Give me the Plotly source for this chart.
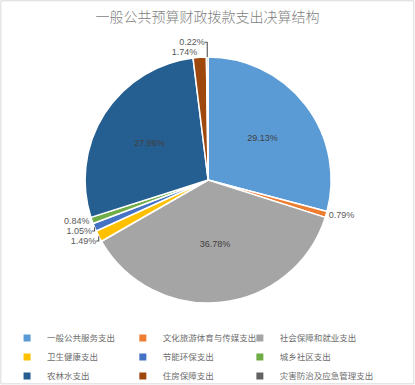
import plotly.graph_objects as go

categories = ["一般公共服务支出", "文化旅游体育与传媒支出", "社会保障和就业支出",
              "卫生健康支出", "节能环保支出", "城乡社区支出",
              "农林水支出", "住房保障支出", "灾害防治及应急管理支出"]
values = [29.13, 0.79, 36.78, 1.49, 1.05, 0.84, 27.96, 1.74, 0.22]
colors = ["#5B9BD5", "#ED7D31", "#A5A5A5", "#FFC000", "#4472C4",
          "#70AD47", "#255E91", "#9E480E", "#636363"]
title = "一般公共预算财政拨款支出决算结构"

positions = ["inside" if v > 10 else "outside" for v in values]

font_family = "Noto Sans CJK SC, Microsoft YaHei, sans-serif"

fig = go.Figure(go.Pie(
    labels=categories,
    values=values,
    sort=False,
    direction="clockwise",
    rotation=0,
    marker=dict(colors=colors, line=dict(color="white", width=1.5)),
    texttemplate="%{value:.2f}%",
    textinfo="text",
    textposition=positions,
    insidetextorientation="horizontal",
    textfont=dict(size=9, color="#404040", family="Liberation Sans, Arial, sans-serif"),
    outsidetextfont=dict(size=9, color="#595959", family="Liberation Sans, Arial, sans-serif"),
    hoverinfo="label+percent",
    showlegend=False,
    domain=dict(x=[0.205, 0.798], y=[0.213, 0.852]),
))

# legend entries laid out in three columns (row-major order, as in the reference)
legend_names = ["legend", "legend2", "legend3"]
for i, (name, col) in enumerate(zip(categories, colors)):
    fig.add_trace(go.Scatter(
        x=[None], y=[None], mode="markers", name=name,
        marker=dict(symbol="square", size=7, color=col),
        legend=legend_names[i % 3], hoverinfo="skip",
    ))

legend_common = dict(orientation="v", yanchor="top", y=0.16, xanchor="left",
                     font=dict(size=8.5, color="#6E6E6E", family=font_family),
                     itemclick=False, tracegroupgap=0, itemwidth=30,
                     bgcolor="rgba(0,0,0,0)")

fig.update_layout(
    width=415, height=385,
    margin=dict(l=0, r=0, t=0, b=0, autoexpand=False),
    paper_bgcolor="white",
    plot_bgcolor="white",
    xaxis=dict(visible=False), yaxis=dict(visible=False),
    title=dict(text=title, x=0.5, xanchor="center", y=0.955, yanchor="middle",
               font=dict(size=14, color="#808080", family=font_family, weight=300)),
    showlegend=True,
    legend=dict(x=0.017, **legend_common),
    legend2=dict(x=0.296, **legend_common),
    legend3=dict(x=0.578, **legend_common),
    shapes=[dict(type="rect", xref="paper", yref="paper", x0=0.002, x1=0.997, y0=0.003, y1=0.998,
                 line=dict(color="#D9D9D9", width=1))],
)

fig.write_html("out.html")
